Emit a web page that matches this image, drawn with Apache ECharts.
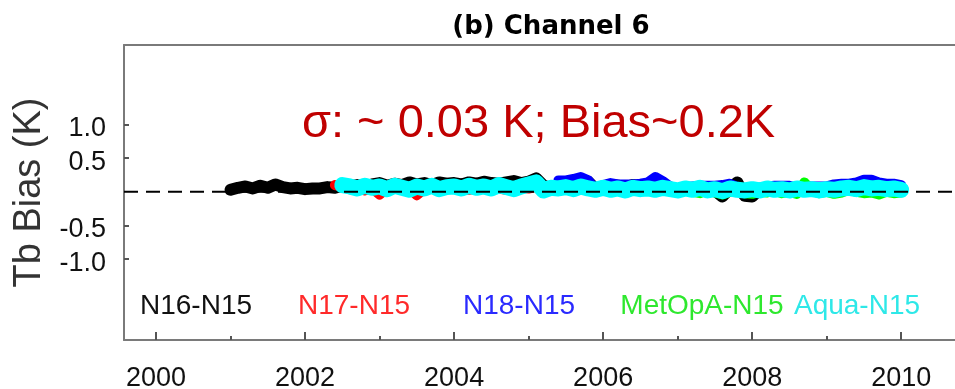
<!DOCTYPE html>
<html>
<head>
<meta charset="utf-8">
<script src="https://cdn.jsdelivr.net/npm/echarts@6/dist/echarts.min.js"></script>
<style>
html,body{margin:0;padding:0;background:#fff;}
#chart{width:955px;height:389px;}
</style>
</head>
<body>
<div id="chart"></div>
<script>
// time axis (decimal years)
const years = [
  2001.0,2001.1,2001.2,2001.3,2001.4,2001.5,2001.6,2001.7,2001.8,2001.9,
  2002.0,2002.1,2002.2,2002.3,2002.4,2002.5,2002.6,2002.7,2002.8,2002.9,
  2003.0,2003.1,2003.2,2003.3,2003.4,2003.5,2003.6,2003.7,2003.8,2003.9,
  2004.0,2004.1,2004.2,2004.3,2004.4,2004.5,2004.6,2004.7,2004.8,2004.9,
  2005.0,2005.1,2005.2,2005.3,2005.4,2005.5,2005.6,2005.7,2005.8,2005.9,
  2006.0,2006.1,2006.2,2006.3,2006.4,2006.5,2006.6,2006.7,2006.8,2006.9,
  2007.0,2007.1,2007.2,2007.3,2007.4,2007.5,2007.6,2007.7,2007.8,2007.9,
  2008.0,2008.1,2008.2,2008.3,2008.4,2008.5,2008.6,2008.7,2008.8,2008.9,
  2009.0,2009.1,2009.2,2009.3,2009.4,2009.5,2009.6,2009.7,2009.8,2009.9,
  2010.0
];
const _ = null;
const n16n15 = [
  0.03,0.06,0.08,0.05,0.09,0.06,0.11,0.07,0.05,0.06,
  0.04,0.05,0.05,0.07,0.06,0.09,0.08,0.10,0.08,0.11,
  0.13,0.09,0.12,0.10,0.14,0.11,0.13,0.10,0.14,0.12,
  0.13,0.11,0.14,0.12,0.15,0.13,0.12,0.14,0.16,0.13,
  0.15,0.20,0.09,0.05,0.09,0.12,0.14,0.18,0.15,0.04,
  0.08,0.10,0.09,0.07,0.10,0.08,0.11,0.12,0.09,0.06,
  0.04,0.06,0.05,0.03,0.05,0.02,-0.07,0.05,0.14,-0.06,
  -0.07,0.04,0.05,0.06,0.03,0.05,0.04,0.06,0.05,0.04,
  0.05,0.06,0.08,0.07,0.09,0.10,0.08,0.07,0.06,0.05,
  0.05
];
const n17n15 = [
  _,_,_,_,_,_,_,_,_,_,
  _,_,_,_,0.10,0.07,0.04,0.05,0.02,0.05,
  -0.04,0.05,0.06,0.03,0.05,-0.05,0.04,0.06,0.03,0.05,
  0.04,0.06,0.03,0.05,0.04,0.06,0.05,0.03,0.04,0.06,
  0.05,0.07,0.03,0.04,0.05,0.03,0.04,0.05,0.03,0.04,
  0.04,0.02,0.03,0.04,0.03,0.02,0.04,0.03,0.02,0.03,
  0.03,0.04,0.02,0.03,0.02,0.04,0.03,0.02,0.03,0.04,
  0.02,0.03,0.04,0.03,0.02,0.03,0.04,0.02,0.03,0.04,
  0.03,0.02,0.04,0.03,0.04,0.03,0.02,0.04,0.03,0.02,
  0.03
];
const n18n15 = [
  _,_,_,_,_,_,_,_,_,_,
  _,_,_,_,_,_,_,_,_,_,
  _,_,_,_,_,_,_,_,_,_,
  _,_,_,_,_,_,_,_,_,_,
  _,_,_,_,0.17,0.17,0.19,0.22,0.17,0.03,
  0.10,0.13,0.11,0.11,0.11,0.12,0.14,0.22,0.16,0.08,
  0.05,0.07,0.08,0.09,0.09,0.09,0.10,0.12,0.07,0.04,
  0.04,0.06,0.08,0.09,0.09,0.09,0.06,0.08,0.08,0.08,
  0.08,0.11,0.12,0.12,0.14,0.18,0.18,0.14,0.12,0.12,
  0.10
];
const metopaN15 = [
  _,_,_,_,_,_,_,_,_,_,
  _,_,_,_,_,_,_,_,_,_,
  _,_,_,_,_,_,_,_,_,_,
  _,_,_,_,_,_,_,_,_,_,
  _,_,_,_,_,_,_,_,_,_,
  _,_,_,_,_,_,_,_,_,_,
  _,_,0.00,-0.02,0.03,-0.01,-0.04,0.00,0.02,-0.02,
  -0.03,0.00,-0.01,0.02,-0.02,0.00,-0.03,0.14,0.02,-0.02,
  0.00,-0.03,-0.01,0.03,0.00,-0.02,-0.01,-0.04,0.00,-0.02,
  -0.01
];
const aquaN15 = [
  _,_,_,_,_,_,_,_,_,_,
  _,_,_,_,_,0.10,0.08,0.05,0.09,0.06,
  0.08,0.04,0.09,0.06,0.03,0.08,0.05,0.09,0.04,0.07,
  0.08,0.05,0.09,0.06,0.08,0.05,0.10,0.07,0.04,0.08,
  0.11,0.14,0.02,0.06,0.05,0.07,0.04,0.08,0.05,0.03,
  0.06,0.03,0.05,0.02,0.06,0.04,0.05,0.03,0.06,0.04,
  0.02,0.05,0.03,0.06,0.02,0.04,0.01,0.05,0.03,0.02,
  0.04,0.02,0.05,0.03,0.04,0.02,0.05,0.03,0.04,0.02,
  0.04,0.03,0.05,0.06,0.04,0.07,0.05,0.06,0.04,0.05,
  0.03
];
const seriesNames = ['N16-N15','N17-N15','N18-N15','MetOpA-N15','Aqua-N15'];
const seriesColors = ['#000000','#ff0000','#0000ff','#00ff00','#00ffff'];
const labelColors = ['#111111','#ff2a2a','#2a2aff','#2ee82e','#2ee8e8'];
const xLabelTicks = [2000,2002,2004,2006,2008,2010];
const xMinorTicks = [2001,2003,2005,2007,2009];
const yTicks = [-1.0,-0.5,0.5,1.0];
const titleText = '(b) Channel 6';
const noteText = 'σ: ~ 0.03 K; Bias~0.2K';
const yName = 'Tb Bias (K)';

const XMIN = 1999.57, XMAX = 2010.99;
function pairs(vals){ return years.map((y,i)=>[y, vals[i]]); }
const allVals = [n16n15,n17n15,n18n15,metopaN15,aquaN15];
const widths = [12,10,10,10,16];
const frame = {show:true, onZero:false, lineStyle:{color:'#7a7a7a', width:2}};

const chart = echarts.init(document.getElementById('chart'), null, {renderer:'canvas'});
const series = allVals.map((v,i)=>({
  name: seriesNames[i], type:'line', xAxisIndex:0, yAxisIndex:0,
  data: pairs(v), showSymbol:false, symbol:'none', connectNulls:false,
  lineStyle:{color:seriesColors[i], width:widths[i], cap:'round', join:'round'},
  z: 2+i, animation:false, silent:true
}));
series.push({
  type:'line', data:[[XMIN,0],[XMAX,0]], symbol:'none', silent:true, animation:false,
  lineStyle:{color:'#000', width:2, type:[14,8]}, z:20
});
const legendPos = [196,354,519,702,857];
chart.setOption({
  animation:false,
  title:{ text:titleText, left:546, top:9, textAlign:'center',
    textStyle:{fontFamily:'DejaVu Sans', fontWeight:'bold', fontSize:26, color:'#000'} },
  grid:{ left:124, top:45, right:-20, bottom:49, show:false, containLabel:false, outerBoundsMode:'none' },
  xAxis:[{
    type:'value', min:XMIN, max:XMAX, gridIndex:0, position:'bottom',
    axisLine:frame, splitLine:{show:false},
    axisTick:{show:true, inside:true, length:8, customValues:xLabelTicks, lineStyle:{color:'#555', width:2}},
    axisLabel:{show:true, customValues:xLabelTicks, margin:25, fontFamily:'Liberation Sans', fontSize:27, color:'#111',
      formatter:v=>String(Math.round(v))}
  },{
    type:'value', min:XMIN, max:XMAX, gridIndex:0, position:'bottom',
    axisLine:{show:false, onZero:false}, splitLine:{show:false}, axisLabel:{show:false},
    axisTick:{show:true, inside:true, length:4, customValues:xMinorTicks, lineStyle:{color:'#555', width:2}}
  },{
    type:'value', min:XMIN, max:XMAX, gridIndex:0, position:'top',
    axisLine:frame, splitLine:{show:false}, axisLabel:{show:false}, axisTick:{show:false}
  }],
  yAxis:{
    type:'value', min:-2.2, max:2.18, position:'left',
    name:yName, nameLocation:'middle', nameGap:74, nameRotate:90,
    nameTextStyle:{fontFamily:'Liberation Sans', fontSize:38, color:'#333'},
    axisLine:frame, splitLine:{show:false},
    axisTick:{show:true, inside:true, length:5, customValues:yTicks, lineStyle:{color:'#555', width:2}},
    axisLabel:{show:true, customValues:yTicks, margin:18, color:'#111',
      formatter:v=>'{a|'+v.toFixed(1)+'}',
      rich:{a:{fontFamily:'Liberation Sans', fontSize:27, color:'#111', padding:[8,0,0,0]}}}
  },
  graphic:[
    {type:'text', left:302, top:101, z:100, style:{text:noteText, fill:'#c00000', font:'47px "Liberation Sans"'}},
    ...seriesNames.map((nm,i)=>({type:'text', x:legendPos[i], y:306, z:100,
      style:{text:nm, fill:labelColors[i], font:'28px "Liberation Sans"', textAlign:'center', textVerticalAlign:'middle'}}))
  ],
  series: series
});
</script>
</body>
</html>
